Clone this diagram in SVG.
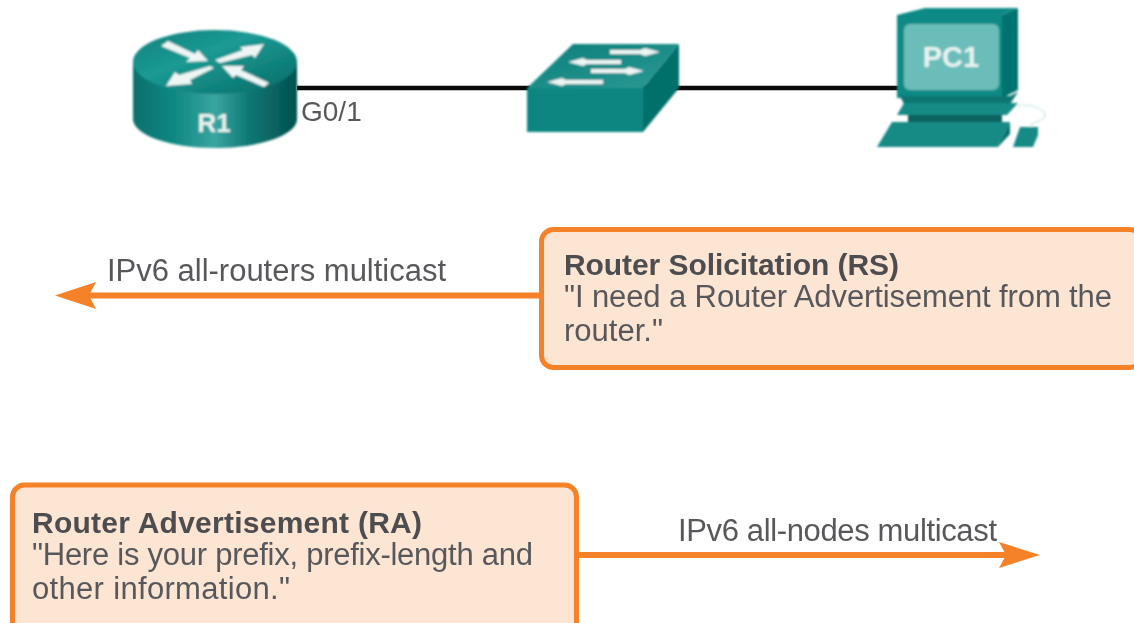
<svg xmlns="http://www.w3.org/2000/svg" width="1134" height="623" viewBox="0 0 1134 623">
<style>
text{font-family:"Liberation Sans",Arial,sans-serif;fill:#58595b;font-size:31px;filter:url(#txt)}
.b{font-weight:bold;font-size:30px;fill:#4d4e50}
.w{fill:#e8f4f3;font-weight:bold;filter:none}
.box{fill:#fde5d4;stroke:#f58228;stroke-width:5}
.or{stroke:#f58228;stroke-width:6;fill:none}
.hd{fill:#f58228}
.ar{fill:#eef6f5}
</style>
<defs>
<linearGradient id="rs" x1="0" x2="1" y1="0" y2="0"><stop offset="0" stop-color="#0b6f6b"/><stop offset=".25" stop-color="#0f8883"/><stop offset=".5" stop-color="#3aa5a0"/><stop offset=".72" stop-color="#0b7571"/><stop offset="1" stop-color="#04514f"/></linearGradient>
<linearGradient id="rt" x1="0" x2="1" y1="0" y2="1"><stop offset="0" stop-color="#0d7f7a"/><stop offset=".4" stop-color="#1b9a94"/><stop offset="1" stop-color="#066a66"/></linearGradient>
<linearGradient id="st" x1="0" x2="1" y1="0" y2="1"><stop offset="0" stop-color="#0b7f7a"/><stop offset="1" stop-color="#2c9a95"/></linearGradient>
<filter id="soft" x="-5%" y="-20%" width="110%" height="140%"><feGaussianBlur stdDeviation="0.8"/></filter>
<filter id="txt" x="-5%" y="-20%" width="110%" height="140%"><feGaussianBlur stdDeviation="0.5"/></filter>
</defs>
<g id="connectors">
<path d="M297 88H530M640 88H900" stroke="#0a0a0a" stroke-width="4.5" fill="none"/>
<path class="or" d="M540 295.500H80"/>
<path class="hd" d="M55 295.500L96 282L89 295.500L96 309Z"/>
<path class="or" d="M578 555H1020"/>
<path class="hd" d="M1040 555L999 542L1006 555L999 568Z"/>
</g>
<g id="R1" filter="url(#soft)">
<path d="M133 62V119C133 135 170 148 215 148S297 135 297 119V62Z" fill="url(#rs)"/>
<ellipse cx="215" cy="62" rx="82" ry="32" fill="url(#rt)"/>
<path class="ar" d="M161 46L168 41L195 54L198 50L208 61L186 62L190 58Z"/>
<path class="ar" d="M264 44L255 58L252 55L220 63L215 60L243 50L240 47Z"/>
<path class="ar" d="M166 86L175 72L179 75L210 66L214 68L190 80L192 84Z"/>
<path class="ar" d="M222 66L244 66L241 70L269 83L264 87L236 75L233 78Z"/>
<text x="214" y="132" class="w" text-anchor="middle" style="font-size:26px">R1</text>
</g>
<text id="G0-1" x="301" y="121" style="font-size:28px">G0/1</text>
<g id="switch" filter="url(#soft)">
<path d="M573 44H679L643 88H527Z" fill="url(#st)"/>
<path d="M527 88H643V132H527Z" fill="#0e8682"/>
<path d="M643 88L679 44V88L643 132Z" fill="#066f6b"/>
<path class="ar" d="M610 50H640L645 48L660 52L645 56L640 54H610Z"/>
<path class="ar" d="M568 62L583 58L587 60H621V64H587L583 66Z"/>
<path class="ar" d="M591 69H625L629 67L644 71L629 75L625 73H591Z"/>
<path class="ar" d="M547 82L562 78L566 80H603V84H566L562 86Z"/>
</g>
<g id="PC1" filter="url(#soft)">
<path d="M1002 15L1018 8V90L1002 98Z" fill="#067370"/>
<path d="M897 15L925 8H1018L1002 15Z" fill="#0f8a85"/>
<path d="M897 15H1002V98H897Z" fill="#108a85"/>
<rect x="904" y="24" width="95" height="66" rx="6" fill="#6abdb8"/>
<path d="M900 96H1010L1018 92L1010 104H904Z" fill="#0b7571"/>
<path d="M904 103H1018L1007 115H897Z" fill="#128a85"/>
<path d="M908 115H1002V124H908Z" fill="#07625f"/>
<path d="M892 122H1010L998 147H877Z" fill="#128a85"/>
<path d="M1010 122V134L998 147Z" fill="#066f6b"/>
<path d="M1020 127H1038V135L1033 147H1013Z" fill="#128a85"/>
<path d="M1017 106C1032 103 1046 110 1045 116C1044 122 1030 121 1030 127" fill="none" stroke="#d5eaea" stroke-width="1.500"/>
<text x="951" y="67" class="w" text-anchor="middle" style="font-size:29px">PC1</text>
</g>
<text id="label-rs" x="107" y="281" textLength="339">IPv6 all-routers multicast</text>
<text id="label-ra" x="678" y="541" textLength="319">IPv6 all-nodes multicast</text>
<g id="rs-box">
<rect class="box" x="541.500" y="229.500" width="600" height="138" rx="12"/>
<text class="b" x="564" y="275" textLength="335">Router Solicitation (RS)</text>
<text x="564" y="307" textLength="548">"I need a Router Advertisement from the</text>
<text x="564" y="341" textLength="99">router."</text>
</g>
<g id="ra-box">
<rect class="box" x="12.500" y="485" width="564" height="150" rx="12"/>
<text class="b" x="32" y="533" textLength="390">Router Advertisement (RA)</text>
<text x="32" y="565" textLength="501">"Here is your prefix, prefix-length and</text>
<text x="32" y="599" textLength="258">other information."</text>
</g>
</svg>
